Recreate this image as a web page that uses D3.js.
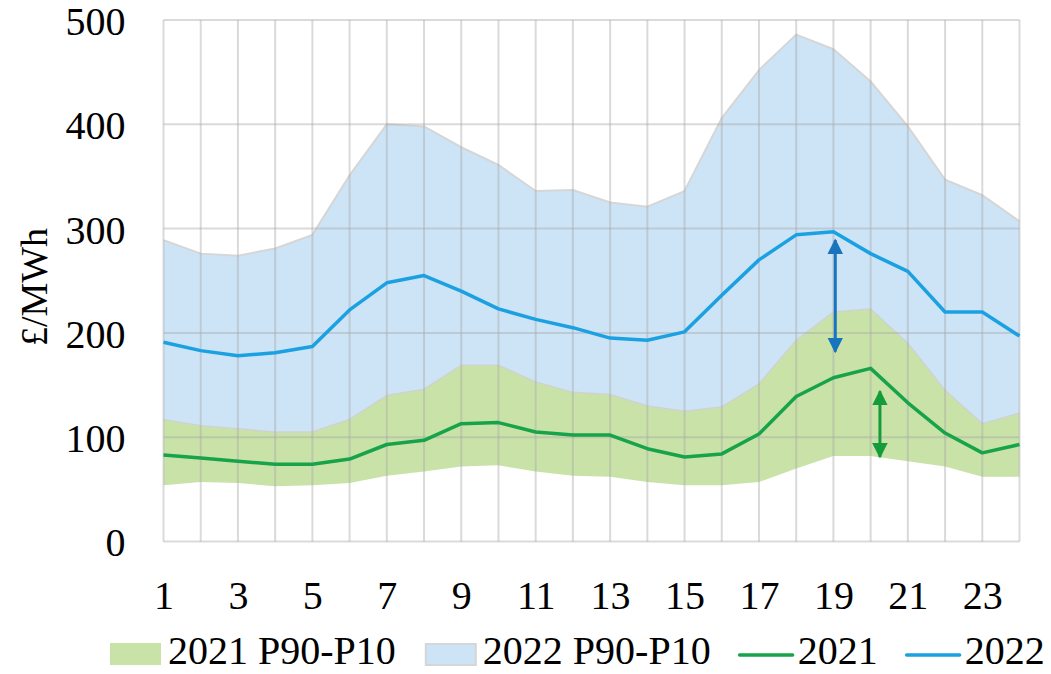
<!DOCTYPE html>
<html>
<head>
<meta charset="utf-8">
<script src="https://cdn.jsdelivr.net/npm/d3@7"></script>
<style>
  body { margin: 0; background: #fff; }
  svg text { font-family: "Liberation Serif", "DejaVu Serif", serif; fill: #000; }
</style>
</head>
<body>
<div id="chart"></div>
<script>
// hours of the day
const hours = d3.range(1, 25);

// 2021 band (P10 / P90) and mean line, £/MWh
const p10_2021 = [54, 57, 56, 53, 54, 56, 63, 67, 72, 73, 67, 63, 62, 57, 54, 54, 57, 70, 82, 82, 77, 72, 62, 62];
const p90_2021 = [117, 111, 108, 105, 105, 117, 140, 146, 169, 169, 153, 143, 141, 130, 125, 129, 151, 193, 220, 223, 190, 145, 113, 123];
const line_2021 = [83, 80, 77, 74, 74, 79, 93, 97, 113, 114, 105, 102, 102, 89, 81, 84, 103, 139, 157, 166, 133, 104, 85, 93];

// 2022 band top and mean line
const p90_2022 = [289, 276, 274, 281, 294, 351, 400, 398, 378, 361, 336, 337, 325, 321, 336, 406, 452, 486, 472, 441, 398, 347, 332, 307];
const line_2022 = [191, 183, 178, 181, 187, 222, 248, 255, 240, 223, 213, 205, 195, 193, 201, 236, 270, 294, 297, 276, 259, 220, 220, 197];

const xTicks = [1, 3, 5, 7, 9, 11, 13, 15, 17, 19, 21, 23];
const yTicks = [0, 100, 200, 300, 400, 500];

// annotation arrows [hour, from, to]
const arrow2022 = [19.05, 289, 182];
const arrow2021 = [20.25, 144, 81];

const legendLabels = ["2021 P90-P10", "2022 P90-P10", "2021", "2022"];

const svg = d3.select("#chart").append("svg")
  .attr("width", 1051)
  .attr("height", 674);

const x = d3.scaleLinear().domain([1, 24]).range([163.5, 1019.5]);
const y = d3.scaleLinear().domain([0, 500]).range([541.5, 20]);

const defs = svg.append("defs");
function addMarker(id, color) {
  defs.append("marker")
    .attr("id", id)
    .attr("viewBox", "0 0 10 10")
    .attr("refX", 9).attr("refY", 5)
    .attr("markerWidth", 5.2).attr("markerHeight", 5.2)
    .attr("markerUnits", "strokeWidth")
    .attr("orient", "auto-start-reverse")
    .append("path")
    .attr("d", "M0,0L10,5L0,10Z")
    .attr("fill", color);
}
addMarker("headBlue", "#1874bf");
addMarker("headGreen", "#149c3c");

// areas
const band2021 = d3.area()
  .x((d, i) => x(hours[i]))
  .y0((d, i) => y(p10_2021[i]))
  .y1((d, i) => y(p90_2021[i]));
const band2022 = d3.area()
  .x((d, i) => x(hours[i]))
  .y0((d, i) => y(p90_2021[i]))
  .y1((d, i) => y(p90_2022[i]));

svg.append("path").datum(hours)
  .attr("d", band2022)
  .attr("fill", "#cce4f6");
svg.append("path").datum(hours)
  .attr("d", band2021)
  .attr("fill", "#c9e2a8");

// grey edges on top of bands
const edge = d3.line().x((d, i) => x(hours[i])).y(d => y(d));
svg.append("path").datum(p90_2022)
  .attr("d", edge)
  .attr("fill", "none").attr("stroke", "#d6d6d6").attr("stroke-width", 2);
svg.append("path").datum(p90_2021)
  .attr("d", edge)
  .attr("fill", "none").attr("stroke", "#cfd3cf").attr("stroke-width", 1.5);

// gridlines
const grid = svg.append("g").attr("stroke", "#a6a6a6").attr("stroke-opacity", 0.42).attr("stroke-width", 2);
grid.selectAll(".v").data(hours).join("line")
  .attr("x1", d => x(d)).attr("x2", d => x(d))
  .attr("y1", y(0)).attr("y2", y(500));
grid.selectAll(".h").data(yTicks).join("line")
  .attr("x1", x(1)).attr("x2", x(24))
  .attr("y1", d => y(d)).attr("y2", d => y(d));

// mean lines
const meanLine = d3.line().x((d, i) => x(hours[i])).y(d => y(d));
svg.append("path").datum(line_2021)
  .attr("d", meanLine)
  .attr("fill", "none").attr("stroke", "#17a34a").attr("stroke-width", 3.5).attr("stroke-linejoin", "round");
svg.append("path").datum(line_2022)
  .attr("d", meanLine)
  .attr("fill", "none").attr("stroke", "#1ba1e2").attr("stroke-width", 3.5).attr("stroke-linejoin", "round");

// arrows
function drawArrow(a, color, marker) {
  svg.append("line")
    .attr("x1", x(a[0])).attr("x2", x(a[0]))
    .attr("y1", y(a[1])).attr("y2", y(a[2]))
    .attr("stroke", color).attr("stroke-width", 3)
    .attr("marker-start", `url(#${marker})`)
    .attr("marker-end", `url(#${marker})`);
}
drawArrow(arrow2022, "#1874bf", "headBlue");
drawArrow(arrow2021, "#149c3c", "headGreen");

// axes
const xAxis = svg.append("g")
  .attr("transform", `translate(0,${y(0)})`)
  .call(d3.axisBottom(x).tickValues(xTicks).tickSize(0).tickFormat(d3.format("d")));
xAxis.select(".domain").remove();
xAxis.selectAll("text")
  .attr("dy", null).attr("y", 67)
  .style("font-size", "40px");

const yAxis = svg.append("g")
  .attr("transform", `translate(${x(1)},0)`)
  .call(d3.axisLeft(y).tickValues(yTicks).tickSize(0).tickPadding(38));
yAxis.select(".domain").remove();
yAxis.selectAll("text")
  .attr("dy", "0.36em")
  .style("font-size", "40px");

svg.selectAll("g").attr("font-family", null).attr("font-size", null);

svg.append("text")
  .attr("transform", "translate(47,287) rotate(-90)")
  .attr("text-anchor", "middle")
  .style("font-size", "38px")
  .text("£/MWh");

// legend
const legend = svg.append("g");
let lx = 110;
const ly = 664;
legendLabels.forEach((lab, i) => {
  if (i === 0) {
    legend.append("rect").attr("x", lx).attr("y", ly - 21).attr("width", 51).attr("height", 22)
      .attr("fill", "#c9e2a8");
  } else if (i === 1) {
    legend.append("rect").attr("x", lx + 1).attr("y", ly - 20).attr("width", 50).attr("height", 21)
      .attr("fill", "#cce4f6").attr("stroke", "#d6d6d6").attr("stroke-width", 2);
  } else {
    legend.append("line").attr("x1", lx).attr("x2", lx + 53).attr("y1", ly - 9).attr("y2", ly - 9)
      .attr("stroke", i === 2 ? "#17a34a" : "#1ba1e2").attr("stroke-width", 3.5).attr("stroke-linecap", "round");
  }
  const t = legend.append("text")
    .attr("x", lx + 58).attr("y", ly)
    .style("font-size", "40px")
    .text(lab);
  lx += 58 + t.node().getComputedTextLength() + 29;
});
</script>
</body>
</html>
